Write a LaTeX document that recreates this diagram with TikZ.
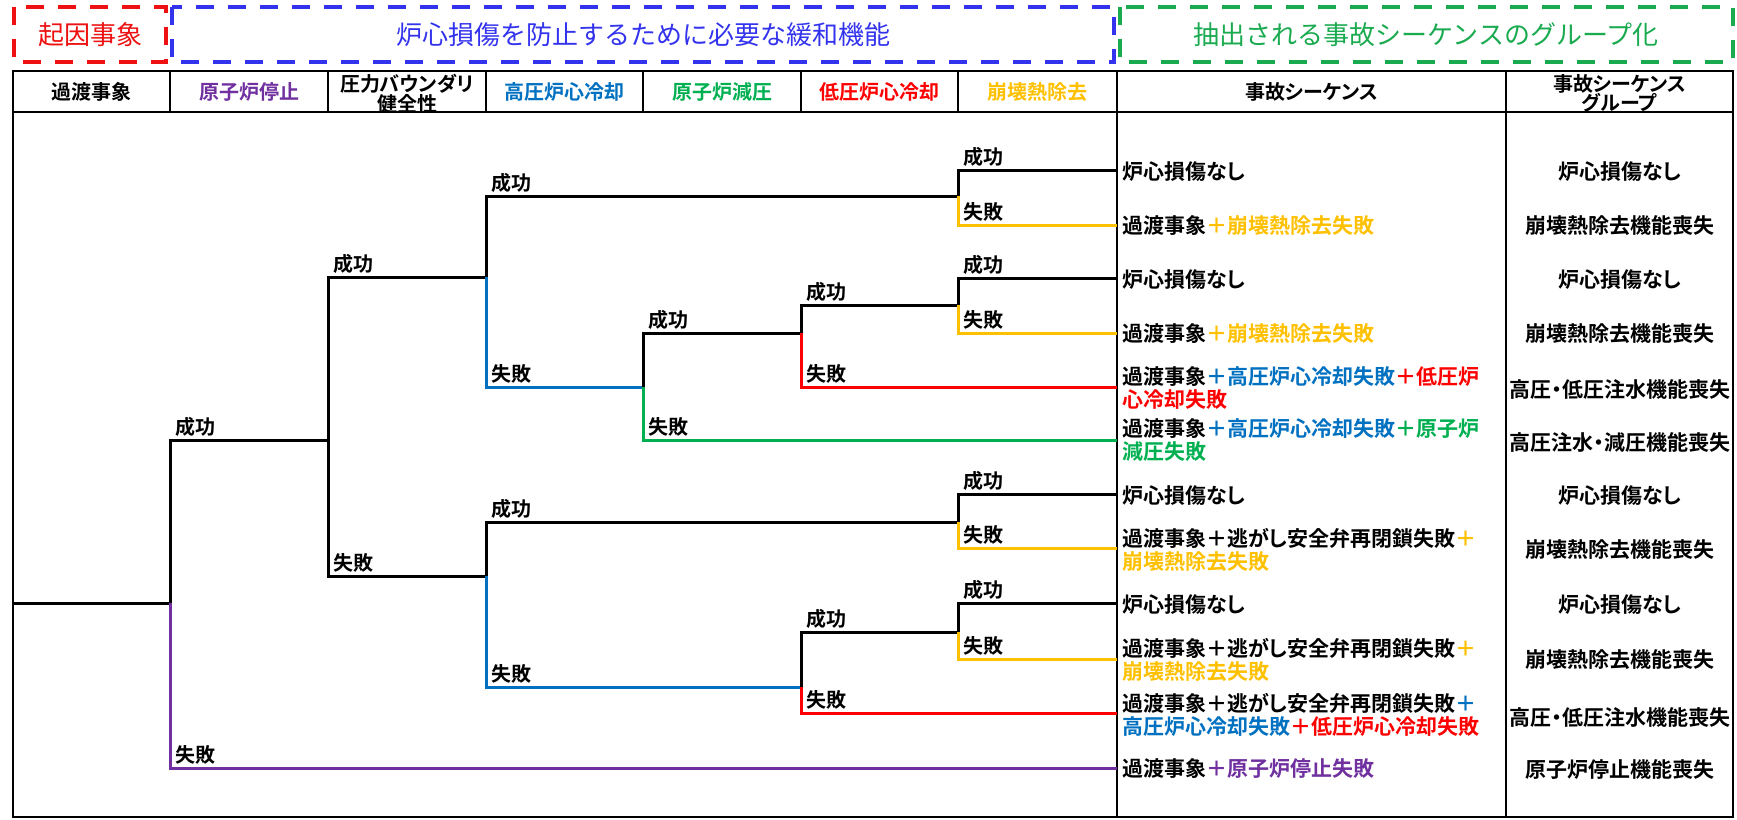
\documentclass[tikz,border=0pt]{standalone}
\usepackage{fontspec}
\newfontfamily\jpr{Noto Sans CJK JP}
\newfontfamily\jpb{Noto Sans CJK JP Bold}[RawFeature=+palt]
\definecolor{cPur}{HTML}{7030A0}
\definecolor{cBlu}{HTML}{0070C0}
\definecolor{cGrn}{HTML}{00B050}
\definecolor{cRed}{HTML}{FF0000}
\definecolor{cYel}{HTML}{FFC000}
\definecolor{tBlu}{HTML}{3333EE}
\definecolor{tGrn}{HTML}{1AAA50}
\definecolor{tRed}{HTML}{EE1111}
\begin{document}
\begin{tikzpicture}[x=1pt,y=-1pt,
  tree/.style={line width=3pt},
  tbl/.style={line width=2pt},
  dbox/.style={line width=3.5pt, dash pattern=on 18pt off 14pt},
  ttl/.style={inner sep=0pt, anchor=center, font=\jpr\fontsize{26}{28}\selectfont},
  hdr/.style={inner sep=0pt, anchor=center, align=center, font=\jpb\fontsize{20}{19.5}\selectfont},
  lbl/.style={inner sep=0pt, anchor=base west, font=\jpb\fontsize{20}{22}\selectfont},
  seq/.style={inner sep=0pt, anchor=west, align=left, font=\jpb\fontsize{21}{23}\selectfont},
  grp/.style={inner sep=0pt, anchor=center, font=\jpb\fontsize{21}{23}\selectfont}]
\useasboundingbox (0,0) rectangle (1737,819);

% title boxes
\draw[dbox, tRed] (14,7) rectangle (166,62);
\draw[dbox, tBlu] (172,7) rectangle (1114,62);
\draw[dbox, tGrn] (1120,7) rectangle (1733,62);
\node[ttl, text=tRed] (t1) at (90,35) {起因事象};
\node[ttl, text=tBlu] (t2) at (643,35) {炉心損傷を防止するために必要な緩和機能};
\node[ttl, text=tGrn] (t3) at (1426,35) {抽出される事故シーケンスのグループ化};

% table
\draw[tbl] (13,71) rectangle (1733,817);
\draw[tbl] (13,112) -- (1733,112);
\foreach \xx in {170,328,486,643,801,958} \draw[tbl] (\xx,71) -- (\xx,112);
\draw[tbl] (1117,71) -- (1117,817);
\draw[tbl] (1506,71) -- (1506,817);

% headers
\node[hdr] (h1) at (91.5,92) {過渡事象};
\node[hdr, text=cPur] (h2) at (249,92) {原子炉停止};
\node[hdr] (h3) at (407,93.5) {圧力バウンダリ\\健全性};
\node[hdr, text=cBlu] (h4) at (564.5,92) {高圧炉心冷却};
\node[hdr, text=cGrn] (h5) at (722,92) {原子炉減圧};
\node[hdr, text=cRed] (h6) at (879.5,92) {低圧炉心冷却};
\node[hdr, text=cYel] (h7) at (1037.5,92) {崩壊熱除去};
\node[hdr] (h8) at (1311.5,92) {事故シーケンス};
\node[hdr] (h9) at (1619.5,93.5) {事故シーケンス\\グループ};

% tree coordinates
\coordinate (s0) at (13,603);
\coordinate (j0) at (170,603);
\coordinate (j1) at (328,440);
\coordinate (j2a) at (486,277);
\coordinate (j2b) at (486,576);
\coordinate (j3a) at (958,196);
\coordinate (j3b) at (958,305);
\coordinate (j3c) at (958,522);
\coordinate (j3d) at (958,632);
\coordinate (j4a) at (643,387);
\coordinate (j5a) at (801,333);
\coordinate (j5b) at (801,687);
\coordinate (e1) at (1117,170);
\coordinate (e2) at (1117,225);
\coordinate (e3) at (1117,278);
\coordinate (e4) at (1117,333);
\coordinate (e5) at (1117,387);
\coordinate (e6) at (1117,440);
\coordinate (e7) at (1117,494);
\coordinate (e8) at (1117,548);
\coordinate (e9) at (1117,603);
\coordinate (e10) at (1117,659);
\coordinate (e11) at (1117,713);
\coordinate (e12) at (1117,768);

% branches
\draw[tree] (s0) -- (j0);
\draw[tree] (j0) |- (j1);
\draw[tree, cPur] (j0) |- (e12);
\draw[tree] (j1) |- (j2a);
\draw[tree] (j1) |- (j2b);
\draw[tree] (j2a) |- (j3a);
\draw[tree, cBlu] (j2a) |- (j4a);
\draw[tree] (j3a) |- (e1);
\draw[tree, cYel] (j3a) |- (e2);
\draw[tree] (j4a) |- (j5a);
\draw[tree, cGrn] (j4a) |- (e6);
\draw[tree] (j5a) |- (j3b);
\draw[tree, cRed] (j5a) |- (e5);
\draw[tree] (j3b) |- (e3);
\draw[tree, cYel] (j3b) |- (e4);
\draw[tree] (j2b) |- (j3c);
\draw[tree, cBlu] (j2b) |- (j5b);
\draw[tree] (j3c) |- (e7);
\draw[tree, cYel] (j3c) |- (e8);
\draw[tree] (j5b) |- (j3d);
\draw[tree, cRed] (j5b) |- (e11);
\draw[tree] (j3d) |- (e9);
\draw[tree, cYel] (j3d) |- (e10);

% branch labels
\node[lbl] (l01) at (175,434) {成功};
\node[lbl] (l02) at (175,762) {失敗};
\node[lbl] (l03) at (333,271) {成功};
\node[lbl] (l04) at (333,570) {失敗};
\node[lbl] (l05) at (491,190) {成功};
\node[lbl] (l06) at (491,381) {失敗};
\node[lbl] (l07) at (491,516) {成功};
\node[lbl] (l08) at (491,681) {失敗};
\node[lbl] (l09) at (648,327) {成功};
\node[lbl] (l10) at (648,434) {失敗};
\node[lbl] (l11) at (806,299) {成功};
\node[lbl] (l12) at (806,381) {失敗};
\node[lbl] (l13) at (806,626) {成功};
\node[lbl] (l14) at (806,707) {失敗};
\node[lbl] (l15) at (963,164) {成功};
\node[lbl] (l16) at (963,219) {失敗};
\node[lbl] (l17) at (963,272) {成功};
\node[lbl] (l18) at (963,327) {失敗};
\node[lbl] (l19) at (963,488) {成功};
\node[lbl] (l20) at (963,542) {失敗};
\node[lbl] (l21) at (963,597) {成功};
\node[lbl] (l22) at (963,653) {失敗};

% sequences
\node[seq] (q1) at (1122,172) {炉心損傷なし};
\node[seq] (q2) at (1122,226) {過渡事象{\color{cYel}＋崩壊熱除去失敗}};
\node[seq] (q3) at (1122,280) {炉心損傷なし};
\node[seq] (q4) at (1122,334) {過渡事象{\color{cYel}＋崩壊熱除去失敗}};
\node[seq] (q5) at (1122,388) {過渡事象{\color{cBlu}＋高圧炉心冷却失敗}{\color{cRed}＋低圧炉}\\{\color{cRed}心冷却失敗}};
\node[seq] (q6) at (1122,440) {過渡事象{\color{cBlu}＋高圧炉心冷却失敗}{\color{cGrn}＋原子炉}\\{\color{cGrn}減圧失敗}};
\node[seq] (q7) at (1122,496) {炉心損傷なし};
\node[seq] (q8) at (1122,550) {過渡事象＋逃がし安全弁再閉鎖失敗{\color{cYel}＋}\\{\color{cYel}崩壊熱除去失敗}};
\node[seq] (q9) at (1122,605) {炉心損傷なし};
\node[seq] (q10) at (1122,660) {過渡事象＋逃がし安全弁再閉鎖失敗{\color{cYel}＋}\\{\color{cYel}崩壊熱除去失敗}};
\node[seq] (q11) at (1122,715) {過渡事象＋逃がし安全弁再閉鎖失敗{\color{cBlu}＋}\\{\color{cBlu}高圧炉心冷却失敗}{\color{cRed}＋低圧炉心冷却失敗}};
\node[seq] (q12) at (1122,769) {過渡事象{\color{cPur}＋原子炉停止失敗}};

% groups
\node[grp] (g1) at (1620,172) {炉心損傷なし};
\node[grp] (g2) at (1620,226) {崩壊熱除去機能喪失};
\node[grp] (g3) at (1620,280) {炉心損傷なし};
\node[grp] (g4) at (1620,334) {崩壊熱除去機能喪失};
\node[grp] (g5) at (1620,389) {高圧・低圧注水機能喪失};
\node[grp] (g6) at (1620,442) {高圧注水・減圧機能喪失};
\node[grp] (g7) at (1620,496) {炉心損傷なし};
\node[grp] (g8) at (1620,550) {崩壊熱除去機能喪失};
\node[grp] (g9) at (1620,605) {炉心損傷なし};
\node[grp] (g10) at (1620,660) {崩壊熱除去機能喪失};
\node[grp] (g11) at (1620,717) {高圧・低圧注水機能喪失};
\node[grp] (g12) at (1620,769) {原子炉停止機能喪失};
\end{tikzpicture}
\end{document}
